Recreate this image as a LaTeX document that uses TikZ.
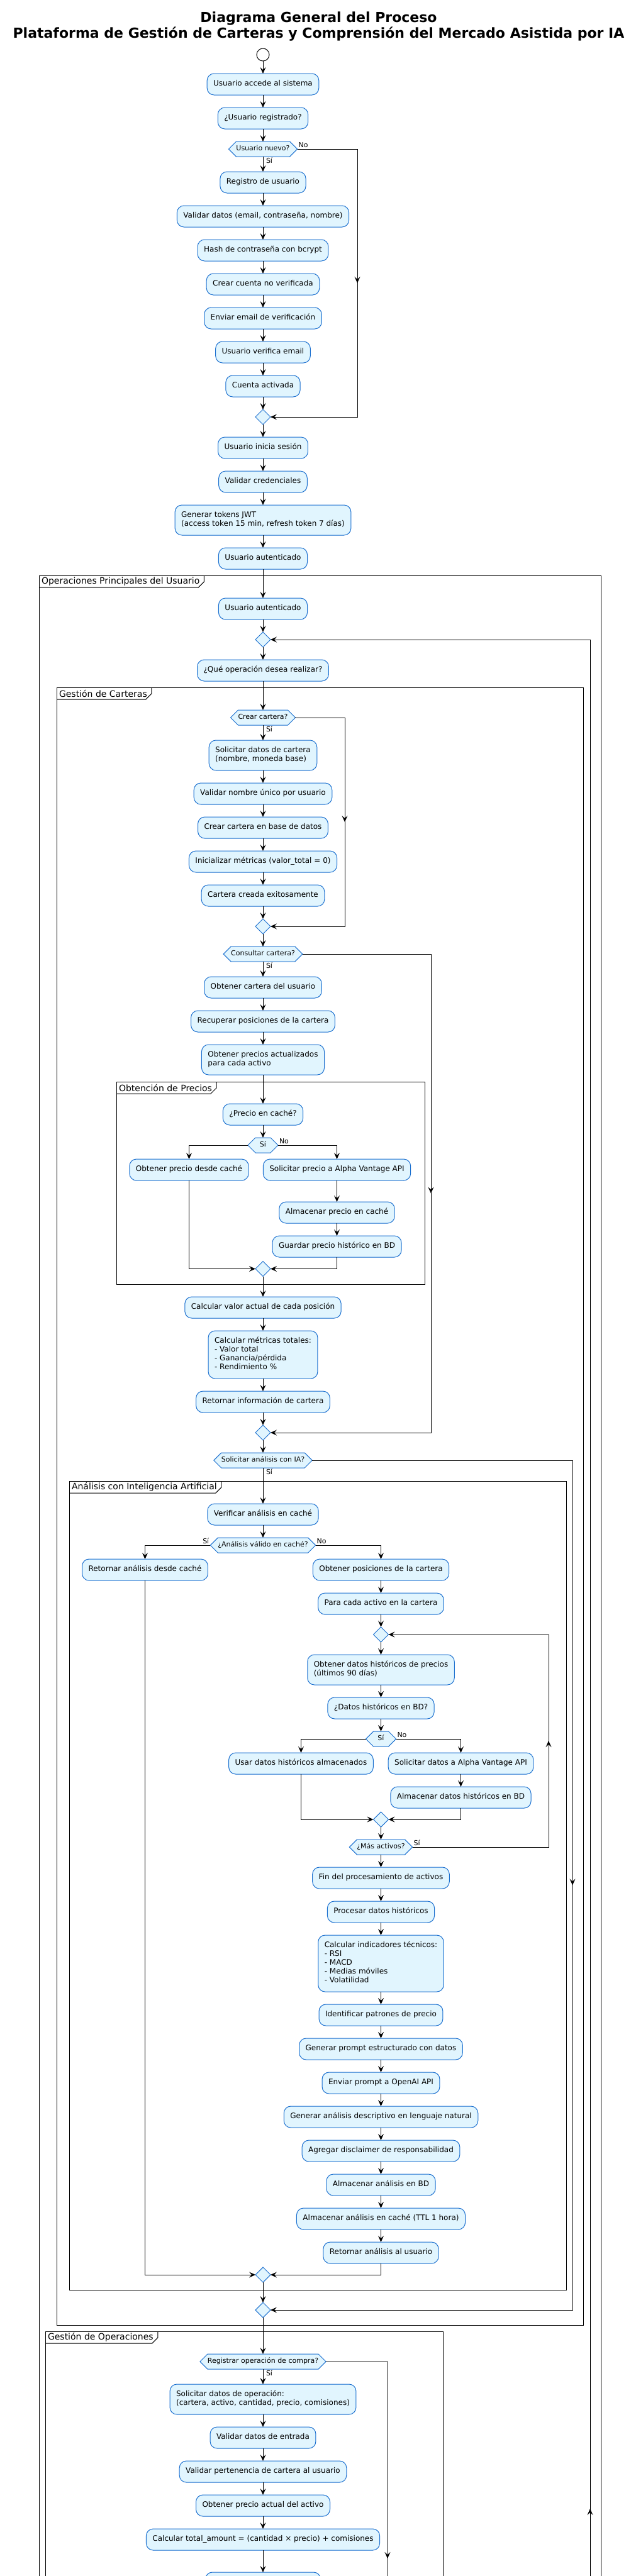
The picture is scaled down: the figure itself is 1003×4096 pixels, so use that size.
\documentclass[tikz,border=0pt]{standalone}
\usepackage{fontspec}
\setmainfont{DejaVu Sans}
\usetikzlibrary{arrows.meta, positioning, calc, shapes.geometric, backgrounds}
\definecolor{actfill}{HTML}{E1F5FE}
\definecolor{actline}{HTML}{1A6FCF}
\newcommand{\midtip}[2]{\draw[flow] (#1) -- ($(#1)!.5!(#2)$);}

\begin{document}
\begin{tikzpicture}[
  x=1pt, y=1pt,
  node distance=20pt,
  act/.style={
    rectangle, draw=actline, fill=actfill, line width=1pt,
    rounded corners=11pt, minimum height=34pt, outer sep=0pt,
    inner xsep=10pt, inner ysep=10pt, align=left,
    font=\fontsize{12}{14}\selectfont, execute at begin node=\strut
  },
  act2/.style={act, minimum height=48pt},
  hexa/.style={
    rectangle, inner xsep=12pt, inner ysep=0pt, minimum height=24pt, outer sep=0pt,
    font=\fontsize{11}{13}\selectfont, execute at begin node=\strut
  },
  hexline/.style={draw=actline, fill=actfill, line width=1pt},
  merge/.style={
    diamond, draw=actline, fill=actfill, line width=1pt, outer sep=0pt,
    minimum width=24pt, minimum height=24pt, inner sep=0pt
  },
  inicial/.style={circle, draw, fill=white, line width=1pt, minimum size=20pt,
    inner sep=0pt, outer sep=0pt},
  flow/.style={-{Stealth[length=10pt, width=9pt, inset=4pt]}, line width=1pt},
  lbl/.style={font=\fontsize{11}{13}\selectfont, inner sep=1.5pt},
  grupo/.style={line width=1pt},
  pestana/.style={font=\fontsize{14}{16}\selectfont, inner xsep=4pt, inner ysep=0pt,
    minimum height=19pt, anchor=north west, outer sep=0pt},
  titulo/.style={font=\fontsize{22}{25}\selectfont\bfseries, anchor=base},
]
\useasboundingbox (0,0) rectangle (1003,-4096);
\begin{scope}[on background layer]
  \fill[white] (0,0) rectangle (1003,-4096);
\end{scope}

% ---- Title ----
\node[titulo] (tit1) at (506.5,-35) {Diagrama General del Proceso};
\node[titulo] (tit2) at (506.5,-60.5) {Plataforma de Gestión de Carteras y Comprensión del Mercado Asistida por IA};

% ---- Registro e inicio de sesion ----
\node[inicial] (inicio) at (418,-87) {};
\node[act, below=of inicio] (accede) {Usuario accede al sistema};
\node[act, below=of accede] (registrado) {¿Usuario registrado?};
\node[hexa, below=of registrado] (nuevo) {Usuario nuevo?};
\node[act, below=24pt of nuevo] (registro) {Registro de usuario};
\node[act, below=of registro] (validar) {Validar datos (email, contraseña, nombre)};
\node[act, below=of validar] (hash) {Hash de contraseña con bcrypt};
\node[act, below=of hash] (cuenta) {Crear cuenta no verificada};
\node[act, below=of cuenta] (email) {Enviar email de verificación};
\node[act, below=of email] (verifica) {Usuario verifica email};
\node[act, below=of verifica] (activada) {Cuenta activada};
\node[merge, below=of activada] (mg1) {};
\node[act, below=of mg1] (sesion) {Usuario inicia sesión};
\node[act, below=of sesion] (credenciales) {Validar credenciales};
\node[act2, below=of credenciales] (jwt)
  {Generar tokens JWT\\(access token 15 min, refresh token 7 días)};
\node[act, below=of jwt] (autenticado) {Usuario autenticado};

% ---- Operaciones principales ----
\node[act, below=46pt of autenticado] (autenticado2) {Usuario autenticado};
\node[merge, below=of autenticado2] (mg2) {};
\node[act, below=of mg2] (operacion) {¿Qué operación desea realizar?};

% ---- Gestion de carteras ----
\node[hexa, below=46pt of operacion] (crear) {Crear cartera?};
\node[act2, below=24pt of crear] (datos_cartera)
  {Solicitar datos de cartera\\(nombre, moneda base)};
\node[act, below=of datos_cartera] (nombre_unico) {Validar nombre único por usuario};
\node[act, below=of nombre_unico] (crear_bd) {Crear cartera en base de datos};
\node[act, below=of crear_bd] (metricas0) {Inicializar métricas (valor\_total = 0)};
\node[act, below=of metricas0] (creada) {Cartera creada exitosamente};
\node[merge, below=of creada] (mg3) {};
\node[hexa, below=of mg3] (consultar) {Consultar cartera?};
\node[act, below=24pt of consultar] (obtener_cartera) {Obtener cartera del usuario};
\node[act, below=of obtener_cartera] (posiciones) {Recuperar posiciones de la cartera};
\node[act2, below=of posiciones] (precios) {Obtener precios actualizados\\para cada activo};

% ---- Obtencion de precios ----
\node[act, below=46pt of precios] (en_cache) {¿Precio en caché?};
\node[hexa, minimum width=48pt, below=of en_cache] (cache_si) {Sí};
\node[act, below=10pt of cache_si, xshift=-117.5pt] (desde_cache) {Obtener precio desde caché};
\node[act, below=10pt of cache_si, xshift=117.5pt] (alpha) {Solicitar precio a Alpha Vantage API};
\node[act, below=34pt of alpha] (guardar_cache) {Almacenar precio en caché};
\node[act, below=of guardar_cache] (historico) {Guardar precio histórico en BD};
\node[merge] (mg4) at ($(historico.south -| cache_si)+(0,-18.5)$) {};

\node[act, below=32.5pt of mg4] (valor) {Calcular valor actual de cada posición};
\node[act, minimum height=76pt, below=of valor] (totales)
  {Calcular métricas totales:\\- Valor total\\- Ganancia/pérdida\\- Rendimiento \%};
\node[act, below=of totales] (retornar) {Retornar información de cartera};
\node[merge, below=of retornar] (mg5) {};
\node[hexa, below=of mg5] (con_ia) {Solicitar análisis con IA?};

% ---- Analisis con IA ----
\node[act, below=57pt of con_ia] (verificar) {Verificar análisis en caché};
\node[hexa, below=of verificar] (valido) {¿Análisis válido en caché?};
\node[act, below=10pt of valido, xshift=-187.5pt] (desde_cache_ia) {Retornar análisis desde caché};
\node[act, below=10pt of valido, xshift=187.5pt] (posiciones_ia) {Obtener posiciones de la cartera};
\node[act, below=of posiciones_ia] (cada_activo) {Para cada activo en la cartera};
\node[merge, below=of cada_activo] (mg6) {};
\node[act2, below=of mg6] (hist90) {Obtener datos históricos de precios\\(últimos 90 días)};
\node[act, below=of hist90] (en_bd) {¿Datos históricos en BD?};
\node[hexa, minimum width=48pt, below=of en_bd] (bd_si) {Sí};
\node[act, below=10pt of bd_si, xshift=-127pt] (usar_bd) {Usar datos históricos almacenados};
\node[act, below=10pt of bd_si, xshift=127pt] (alpha_hist) {Solicitar datos a Alpha Vantage API};
\node[act, below=of alpha_hist] (guardar_hist) {Almacenar datos históricos en BD};
\node[merge] (mg7) at ($(guardar_hist.south -| bd_si)+(0,-18)$) {};
\node[hexa, below=of mg7] (mas) {¿Más activos?};
\node[act, below=of mas] (fin_activos) {Fin del procesamiento de activos};
\node[act, below=of fin_activos] (procesar) {Procesar datos históricos};
\node[act, minimum height=90pt, below=of procesar] (indicadores)
  {Calcular indicadores técnicos:\\- RSI\\- MACD\\- Medias móviles\\- Volatilidad};
\node[act, below=of indicadores] (patrones) {Identificar patrones de precio};
\node[act, below=of patrones] (prompt) {Generar prompt estructurado con datos};
\node[act, below=of prompt] (openai) {Enviar prompt a OpenAI API};
\node[act, below=of openai] (lenguaje) {Generar análisis descriptivo en lenguaje natural};
\node[act, below=of lenguaje] (disclaimer) {Agregar disclaimer de responsabilidad};
\node[act, below=of disclaimer] (guardar_bd) {Almacenar análisis en BD};
\node[act, below=of guardar_bd] (guardar_ttl) {Almacenar análisis en caché (TTL 1 hora)};
\node[act, below=of guardar_ttl] (al_usuario) {Retornar análisis al usuario};
\node[merge] (mg8) at ($(al_usuario.south -| mg5)+(0,-18)$) {};
\node[merge, below=32pt of mg8] (mg9) {};

% ---- Gestion de operaciones ----
\node[hexa, below=58pt of mg9] (compra) {Registrar operación de compra?};
\node[act2, below=24pt of compra] (datos_op)
  {Solicitar datos de operación:\\(cartera, activo, cantidad, precio, comisiones)};
\node[act, below=of datos_op] (entrada) {Validar datos de entrada};
\node[act, below=of entrada] (pertenencia) {Validar pertenencia de cartera al usuario};
\node[act, below=of pertenencia] (precio_actual) {Obtener precio actual del activo};
\node[act, below=of precio_actual] (total) {Calcular total\_amount = (cantidad × precio) + comisiones};
\node[act, minimum width=183pt, below=35pt of total] (siguiente) {};

% Hexagon outlines (behind the text)
\begin{scope}[on background layer]
  \foreach \h in {nuevo,crear,consultar,cache_si,con_ia,valido,bd_si,mas,compra}
    \draw[hexline] (\h.west) -- ([xshift=12pt]\h.north west) -- ([xshift=-12pt]\h.north east)
      -- (\h.east) -- ([xshift=-12pt]\h.south east) -- ([xshift=12pt]\h.south west) -- cycle;
\end{scope}

% Group frames
\draw[grupo] (62,-915) rectangle (955,-4200);
\node[pestana] (t_ops) at (62,-915) {Operaciones Principales del Usuario};
\draw[grupo] (t_ops.south west) -- ([xshift=-6pt]t_ops.south east)
  -- ([xshift=3pt,yshift=9pt]t_ops.south east) -- ([xshift=3pt]t_ops.north east);

\draw[grupo] (90,-1093) rectangle (927,-3697);
\node[pestana] (t_car) at (90,-1093) {Gestión de Carteras};
\draw[grupo] (t_car.south west) -- ([xshift=-6pt]t_car.south east)
  -- ([xshift=3pt,yshift=9pt]t_car.south east) -- ([xshift=3pt]t_car.north east);

\draw[grupo] (185,-1720) rectangle (675,-2042);
\node[pestana] (t_pre) at (185,-1720) {Obtención de Precios};
\draw[grupo] (t_pre.south west) -- ([xshift=-6pt]t_pre.south east)
  -- ([xshift=3pt,yshift=9pt]t_pre.south east) -- ([xshift=3pt]t_pre.north east);

\draw[grupo] (110,-2355) rectangle (900,-3641);
\node[pestana] (t_ia) at (110,-2355) {Análisis con Inteligencia Artificial};
\draw[grupo] (t_ia.south west) -- ([xshift=-6pt]t_ia.south east)
  -- ([xshift=3pt,yshift=9pt]t_ia.south east) -- ([xshift=3pt]t_ia.north east);

\draw[grupo] (72,-3707) rectangle (704,-4200);
\node[pestana] (t_op) at (72,-3707) {Gestión de Operaciones};
\draw[grupo] (t_op.south west) -- ([xshift=-6pt]t_op.south east)
  -- ([xshift=3pt,yshift=9pt]t_op.south east) -- ([xshift=3pt]t_op.north east);

% Arrows (main flow)
\draw[flow] (inicio) -- (accede);
\draw[flow] (accede) -- (registrado);
\draw[flow] (registrado) -- (nuevo);
\draw[flow] (nuevo) -- node[lbl, pos=0, anchor=north west, xshift=3pt] {Sí} (registro);
\draw[flow] (registro) -- (validar);
\draw[flow] (validar) -- (hash);
\draw[flow] (hash) -- (cuenta);
\draw[flow] (cuenta) -- (email);
\draw[flow] (email) -- (verifica);
\draw[flow] (verifica) -- (activada);
\draw[flow] (activada) -- (mg1);
\draw[flow] (mg1) -- (sesion);
\draw[flow] (sesion) -- (credenciales);
\draw[flow] (credenciales) -- (jwt);
\draw[flow] (jwt) -- (autenticado);
\draw[flow] (autenticado) -- (autenticado2);
\draw[flow] (autenticado2) -- (mg2);
\draw[flow] (mg2) -- (operacion);
\draw[flow] (operacion) -- (crear);
\draw[flow] (crear) -- node[lbl, pos=0, anchor=north west, xshift=3pt] {Sí} (datos_cartera);
\draw[flow] (datos_cartera) -- (nombre_unico);
\draw[flow] (nombre_unico) -- (crear_bd);
\draw[flow] (crear_bd) -- (metricas0);
\draw[flow] (metricas0) -- (creada);
\draw[flow] (creada) -- (mg3);
\draw[flow] (mg3) -- (consultar);
\draw[flow] (consultar) -- node[lbl, pos=0, anchor=north west, xshift=3pt] {Sí} (obtener_cartera);
\draw[flow] (obtener_cartera) -- (posiciones);
\draw[flow] (posiciones) -- (precios);
\draw[flow] (precios) -- (en_cache);
\draw[flow] (en_cache) -- (cache_si);
\draw[flow] (alpha) -- (guardar_cache);
\draw[flow] (guardar_cache) -- (historico);
\draw[flow] (mg4) -- (valor);
\draw[flow] (valor) -- (totales);
\draw[flow] (totales) -- (retornar);
\draw[flow] (retornar) -- (mg5);
\draw[flow] (mg5) -- (con_ia);
\draw[flow] (con_ia) -- node[lbl, pos=0, anchor=north west, xshift=3pt] {Sí} (verificar);
\draw[flow] (verificar) -- (valido);
\draw[flow] (posiciones_ia) -- (cada_activo);
\draw[flow] (cada_activo) -- (mg6);
\draw[flow] (mg6) -- (hist90);
\draw[flow] (hist90) -- (en_bd);
\draw[flow] (en_bd) -- (bd_si);
\draw[flow] (alpha_hist) -- (guardar_hist);
\draw[flow] (mg7) -- (mas);
\draw[flow] (mas) -- (fin_activos);
\draw[flow] (fin_activos) -- (procesar);
\draw[flow] (procesar) -- (indicadores);
\draw[flow] (indicadores) -- (patrones);
\draw[flow] (patrones) -- (prompt);
\draw[flow] (prompt) -- (openai);
\draw[flow] (openai) -- (lenguaje);
\draw[flow] (lenguaje) -- (disclaimer);
\draw[flow] (disclaimer) -- (guardar_bd);
\draw[flow] (guardar_bd) -- (guardar_ttl);
\draw[flow] (guardar_ttl) -- (al_usuario);
\draw[flow] (mg8) -- (mg9);
\draw[flow] (mg9) -- (compra);
\draw[flow] (compra) -- node[lbl, pos=0, anchor=north west, xshift=3pt] {Sí} (datos_op);
\draw[flow] (datos_op) -- (entrada);
\draw[flow] (entrada) -- (pertenencia);
\draw[flow] (pertenencia) -- (precio_actual);
\draw[flow] (precio_actual) -- (total);
\draw[flow] (total) -- (siguiente);

% Branches (if / else)
\draw[flow] (cache_si.west) -| (desde_cache.north);
\draw[flow] (cache_si.east) node[lbl, anchor=south west] {No} -| (alpha.north);
\draw[flow] (desde_cache.south) |- (mg4.west);
\draw[flow] (historico.south) |- (mg4.east);

\draw[flow] (valido.west) node[lbl, anchor=south east] {Sí} -| (desde_cache_ia.north);
\draw[flow] (valido.east) node[lbl, anchor=south west] {No} -| (posiciones_ia.north);
\draw[flow] (desde_cache_ia.south) |- (mg8.west);
\draw[flow] (al_usuario.south) |- (mg8.east);

\draw[flow] (bd_si.west) -| (usar_bd.north);
\draw[flow] (bd_si.east) node[lbl, anchor=south west] {No} -| (alpha_hist.north);
\draw[flow] (usar_bd.south) |- (mg7.west);
\draw[flow] (guardar_hist.south) |- (mg7.east);

% Skip lines (no branch) with arrow halfway
\coordinate (no_r) at (568,0);
\draw[flow] (nuevo.east) node[lbl, anchor=south west] {No}
  -- (nuevo.east -| no_r) -- (mg1.east -| no_r) -- (mg1.east);
\midtip{nuevo.east -| no_r}{mg1.east -| no_r}

\coordinate (crear_r) at (548,0);
\draw[flow] (crear.east) -- (crear.east -| crear_r) -- (mg3.east -| crear_r) -- (mg3.east);
\midtip{crear.east -| crear_r}{mg3.east -| crear_r}

\coordinate (consultar_r) at (685,0);
\draw[flow] (consultar.east) -- (consultar.east -| consultar_r) -- (mg5.east -| consultar_r) -- (mg5.east);
\midtip{consultar.east -| consultar_r}{mg5.east -| consultar_r}

\coordinate (ia_r) at (910,0);
\draw[flow] (con_ia.east) -- (con_ia.east -| ia_r) -- (mg9.east -| ia_r) -- (mg9.east);
\midtip{con_ia.east -| ia_r}{mg9.east -| ia_r}

% Loops back
\coordinate (mas_r) at (872,0);
\draw[flow] (mas.east) node[lbl, anchor=south west] {Sí}
  -- (mas.east -| mas_r) -- (mg6.east -| mas_r) -- (mg6.east);
\midtip{mas.east -| mas_r}{mg6.east -| mas_r}

\coordinate (bucle) at (938,-6961);
\draw[flow] (bucle) -- (mg2.east -| bucle) -- (mg2.east);
\midtip{bucle}{mg2.east -| bucle}

\coordinate (compra_r) at (616,-4381);
\draw[line width=1pt] (compra.east) -- (compra.east -| compra_r) -- (compra_r);
\midtip{compra.east -| compra_r}{compra_r}

\end{tikzpicture}
\end{document}
